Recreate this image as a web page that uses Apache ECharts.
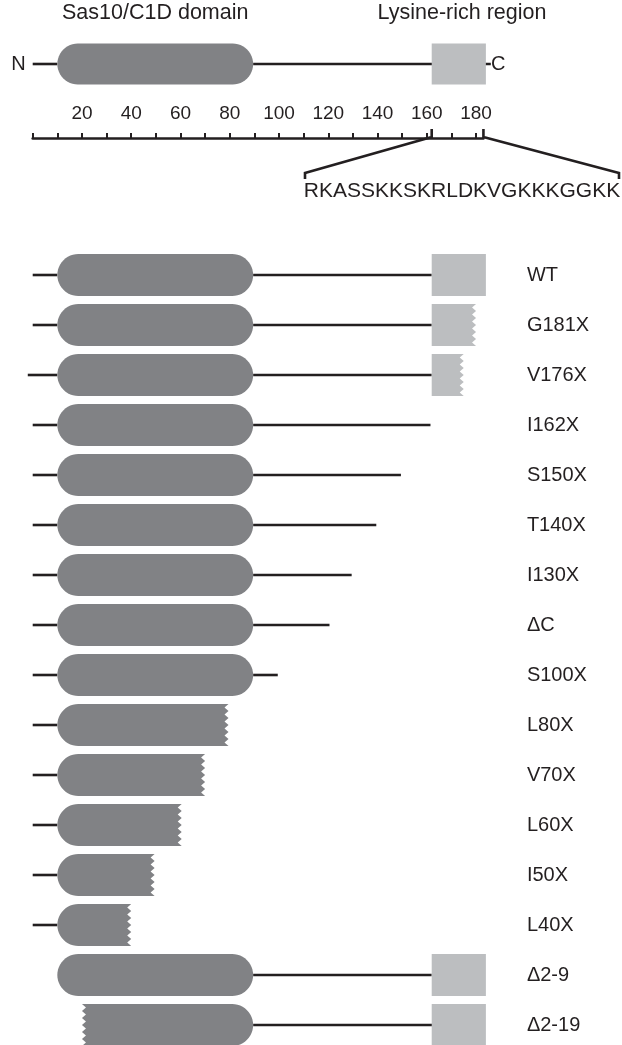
<!DOCTYPE html>
<html>
<head>
<meta charset="utf-8">
<style>
  html, body { margin: 0; padding: 0; background: #fff; }
  #main { width: 622px; height: 1045px; }
</style>
<script src="https://cdn.jsdelivr.net/npm/echarts@6/dist/echarts.min.js"></script>
</head>
<body>
<div id="main"></div>
<script>
// protein map (amino acid positions)
var proteinLength = 184;
var lysineStart = 162;
var lysineEnd = 183;
var rulerMax = 183;
var rulerTicks = [0, 10, 20, 30, 40, 50, 60, 70, 80, 90, 100, 110, 120, 130, 140, 150, 160, 170, 180];
var rulerLabels = [20, 40, 60, 80, 100, 120, 140, 160, 180];
var lysineSeq = 'RKASSKKSKRLDKVGKKKGGKK';

// full length protein on top
var topName = ['full'];
var topNStart = [0];
var topDomStart = [10];
var topDomEnd = [89.5];
var topLinkerEnd = [186];
var topBoxEnd = [184];
var topDomCut = [''];
var topBoxCut = [''];

// constructs
var constructs = ['WT', 'G181X', 'V176X', 'I162X', 'S150X', 'T140X', 'I130X', 'ΔC', 'S100X',
  'L80X', 'V70X', 'L60X', 'I50X', 'L40X', 'Δ2-9', 'Δ2-19'];
var nStart = [0, 0, -2, 0, 0, 0, 0, 0, 0, 0, 0, 0, 0, 0, null, null];
var domStart = [10, 10, 10, 10, 10, 10, 10, 10, 10, 10, 10, 10, 10, 10, 10, 20];
var domEnd = [89.5, 89.5, 89.5, 89.5, 89.5, 89.5, 89.5, 89.5, 89.5, 79.5, 70, 60.5, 49.5, 40, 89.5, 89.5];
var linkerEnd = [162, 162, 162, 161.5, 149.5, 139.5, 129.5, 120.5, 99.5, null, null, null, null, null, 162, 163];
var boxEnd = [184, 180, 175, null, null, null, null, null, null, null, null, null, null, null, 184, 184];
var domCut = ['', '', '', '', '', '', '', '', '', 'R', 'R', 'R', 'R', 'R', '', 'L'];
var boxCut = ['', 'R', 'R', '', '', '', '', '', '', '', '', '', '', '', '', ''];

var ink = '#231f20';
var domainGrey = '#818285';
var lysineGrey = '#bcbec0';
var font = '"Liberation Sans", Arial, Helvetica, sans-serif';
var gridLeft = 32.7;
var pxPerAa = 2.463;
var barH = 42;

function zigzag(x, yTop, h, dir, fromBottom) {
  var pts = [];
  var n = Math.round(h / 7) * 2;
  for (var k = 0; k <= n; k++) {
    var y = fromBottom ? yTop + h - k * h / n : yTop + k * h / n;
    pts.push([x + (k % 2 ? dir * 4 : 0), y]);
  }
  return pts;
}

function shapePoints(x0, x1, yc, h, cut, round) {
  var r = h / 2, pts = [], t, s;
  // right side, top -> bottom
  if (cut.indexOf('R') >= 0) {
    pts = pts.concat(zigzag(x1, yc - r, h, -1, false));
  } else if (round) {
    for (s = 0; s <= 24; s++) {
      t = -Math.PI / 2 + Math.PI * s / 24;
      pts.push([x1 - r + r * Math.cos(t), yc + r * Math.sin(t)]);
    }
  } else {
    pts.push([x1, yc - r], [x1, yc + r]);
  }
  // left side, bottom -> top
  if (cut.indexOf('L') >= 0) {
    pts = pts.concat(zigzag(x0, yc - r, h, 1, true));
  } else if (round) {
    for (s = 0; s <= 24; s++) {
      t = Math.PI / 2 + Math.PI * s / 24;
      pts.push([x0 + r + r * Math.cos(t), yc + r * Math.sin(t)]);
    }
  } else {
    pts.push([x0, yc + r], [x0, yc - r]);
  }
  return pts;
}

function makeRenderer(ns, ds, de, le, be, dc, bc, h) {
  return function (params, api) {
    var i = params.dataIndex;
    var yc = api.coord([0, i])[1];
    var X = function (aa) { return api.coord([aa, i])[0]; };
    var lineStyle = { stroke: ink, lineWidth: 2.6 };
    var children = [];
    if (ns[i] != null) {
      children.push({ type: 'line', shape: { x1: X(ns[i]), y1: yc, x2: X(ds[i]), y2: yc }, style: lineStyle });
    }
    if (le[i] != null) {
      children.push({ type: 'line', shape: { x1: X(de[i]), y1: yc, x2: X(le[i]), y2: yc }, style: lineStyle });
    }
    children.push({
      type: 'polygon',
      shape: { points: shapePoints(X(ds[i]), X(de[i]), yc, h, dc[i], true) },
      style: { fill: domainGrey }
    });
    if (be[i] != null) {
      children.push({
        type: 'polygon',
        shape: { points: shapePoints(X(lysineStart), X(be[i]), yc, h, bc[i], false) },
        style: { fill: lysineGrey }
      });
    }
    return { type: 'group', children: children };
  };
}

var chart = echarts.init(document.getElementById('main'));
var fullWidth = proteinLength * pxPerAa;

chart.setOption({
  animation: false,
  backgroundColor: '#fff',
  textStyle: { fontFamily: font },
  grid: [
    { left: gridLeft, top: 44, width: fullWidth, height: 40, outerBoundsMode: 'none' },
    { left: gridLeft, top: 128, width: rulerMax * pxPerAa, height: 10, outerBoundsMode: 'none' },
    { left: gridLeft, top: 250, width: fullWidth, height: 800, outerBoundsMode: 'none' }
  ],
  xAxis: [
    { gridIndex: 0, type: 'value', min: 0, max: proteinLength, show: false },
    {
      gridIndex: 1, type: 'value', min: 0, max: rulerMax, position: 'top',
      splitLine: { show: false },
      axisLine: { show: true, lineStyle: { color: ink, width: 2.6 } },
      axisTick: { show: true, length: 5, lineStyle: { color: ink, width: 2 }, customValues: rulerTicks },
      axisLabel: { show: true, margin: 5, fontSize: 19, color: ink, fontFamily: font, customValues: rulerLabels }
    },
    { gridIndex: 2, type: 'value', min: 0, max: proteinLength, show: false }
  ],
  yAxis: [
    {
      gridIndex: 0, type: 'category', data: ['N'], position: 'left',
      axisLine: { show: false }, axisTick: { show: false }, splitLine: { show: false },
      axisLabel: { margin: 7, fontSize: 20, color: ink, fontFamily: font }
    },
    {
      gridIndex: 0, type: 'category', data: ['C'], position: 'right',
      axisLine: { show: false }, axisTick: { show: false }, splitLine: { show: false },
      axisLabel: { margin: 5, fontSize: 20, color: ink, fontFamily: font }
    },
    { gridIndex: 1, type: 'value', show: false },
    {
      gridIndex: 2, type: 'category', data: constructs, inverse: true, position: 'right',
      axisLine: { show: false }, axisTick: { show: false }, splitLine: { show: false },
      axisLabel: { margin: 41, fontSize: 20, color: ink, fontFamily: font, align: 'left' }
    }
  ],
  series: [
    {
      type: 'custom',
      xAxisIndex: 0, yAxisIndex: 0,
      renderItem: makeRenderer(topNStart, topDomStart, topDomEnd, topLinkerEnd, topBoxEnd, topDomCut, topBoxCut, 41),
      data: topName.map(function (n, i) { return [topDomStart[i], i]; }),
      encode: { x: 0, y: 1 }
    },
    {
      type: 'custom',
      xAxisIndex: 2, yAxisIndex: 3,
      renderItem: makeRenderer(nStart, domStart, domEnd, linkerEnd, boxEnd, domCut, boxCut, barH),
      data: constructs.map(function (n, i) { return [domStart[i], i]; }),
      encode: { x: 0, y: 1 }
    }
  ]
});

// labels and the zoom-in bracket to the lysine-rich sequence
var xa = chart.convertToPixel({ xAxisIndex: 1 }, lysineStart);
var xb = chart.convertToPixel({ xAxisIndex: 1 }, lysineEnd);
var seqLeft = 305, seqRight = 619;
var bracketStyle = { stroke: ink, lineWidth: 2.6, fill: null };
chart.setOption({
  graphic: [
    {
      type: 'text', x: chart.convertToPixel({ xAxisIndex: 0 }, (topDomStart[0] + topDomEnd[0]) / 2), y: 13,
      style: { text: 'Sas10/C1D domain', font: '21.5px ' + font, fill: ink, align: 'center', verticalAlign: 'middle' }
    },
    {
      type: 'text', x: 462, y: 13,
      style: { text: 'Lysine-rich region', font: '21.5px ' + font, fill: ink, align: 'center', verticalAlign: 'middle' }
    },
    {
      type: 'polyline',
      shape: { points: [[xa, 129], [xa, 137], [seqLeft, 173], [seqLeft, 179]] },
      style: bracketStyle
    },
    {
      type: 'polyline',
      shape: { points: [[xb, 129], [xb, 137], [seqRight, 173], [seqRight, 179]] },
      style: bracketStyle
    },
    {
      type: 'text', x: (seqLeft + seqRight) / 2, y: 191,
      style: { text: lysineSeq, font: '21px ' + font, fill: ink, align: 'center', verticalAlign: 'middle' }
    }
  ]
});
</script>
</body>
</html>
